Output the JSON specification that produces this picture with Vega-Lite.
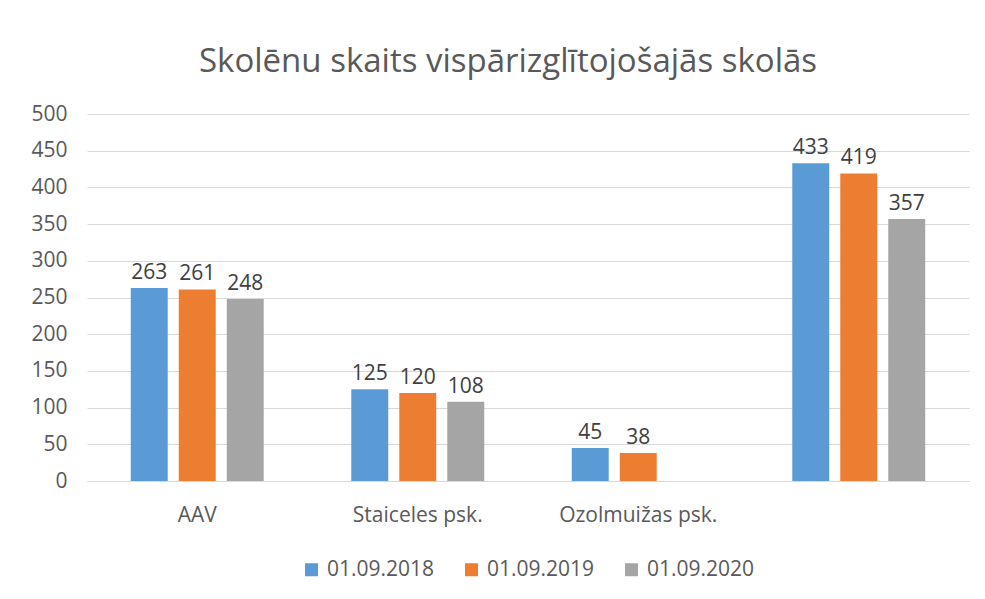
{
  "$schema": "https://vega.github.io/schema/vega-lite/v6.json",
  "width": 882,
  "height": 367,
  "padding": {"left": 30, "top": 46, "right": 15, "bottom": 10},
  "background": "white",
  "title": {
    "text": "Skolēnu skaits vispārizglītojošajās skolās",
    "font": "Open Sans",
    "fontSize": 33,
    "fontWeight": "normal",
    "color": "#595959",
    "anchor": "middle",
    "offset": 24,
    "dx": -20
  },
  "data": {
    "values": [
      {"skola": "AAV", "datums": "01.09.2018", "skaits": 263},
      {"skola": "AAV", "datums": "01.09.2019", "skaits": 261},
      {"skola": "AAV", "datums": "01.09.2020", "skaits": 248},
      {"skola": "Staiceles psk.", "datums": "01.09.2018", "skaits": 125},
      {"skola": "Staiceles psk.", "datums": "01.09.2019", "skaits": 120},
      {"skola": "Staiceles psk.", "datums": "01.09.2020", "skaits": 108},
      {"skola": "Ozolmuižas psk.", "datums": "01.09.2018", "skaits": 45},
      {"skola": "Ozolmuižas psk.", "datums": "01.09.2019", "skaits": 38},
      {"skola": " ", "datums": "01.09.2018", "skaits": 433},
      {"skola": " ", "datums": "01.09.2019", "skaits": 419},
      {"skola": " ", "datums": "01.09.2020", "skaits": 357}
    ]
  },
  "encoding": {
    "x": {
      "field": "skola",
      "type": "nominal",
      "sort": ["AAV", "Staiceles psk.", "Ozolmuižas psk.", " "],
      "scale": {"paddingInner": 0.347, "paddingOuter": 0.1735},
      "axis": {
        "title": null,
        "labelAngle": 0,
        "labelFont": "Open Sans",
        "labelFontSize": 21,
        "labelColor": "#595959",
        "labelPadding": 23,
        "ticks": false,
        "domainColor": "#D9D9D9",
        "grid": false
      }
    },
    "xOffset": {
      "field": "datums",
      "type": "nominal",
      "scale": {"paddingInner": 0.23, "paddingOuter": 0.115}
    },
    "y": {
      "field": "skaits",
      "type": "quantitative",
      "scale": {"domain": [0, 500]},
      "axis": {
        "title": null,
        "values": [0, 50, 100, 150, 200, 250, 300, 350, 400, 450, 500],
        "labelFont": "Open Sans",
        "labelFontSize": 21,
        "labelColor": "#595959",
        "labelPadding": 20,
        "ticks": false,
        "domain": false,
        "gridColor": "#D9D9D9"
      }
    }
  },
  "layer": [
    {
      "mark": {"type": "bar"},
      "encoding": {
        "color": {
          "field": "datums",
          "type": "nominal",
          "scale": {"range": ["#5B9BD5", "#ED7D31", "#A5A5A5"]},
          "legend": {
            "title": null,
            "orient": "bottom",
            "direction": "horizontal",
            "symbolType": "square",
            "symbolSize": 169,
            "symbolStrokeWidth": 0,
            "labelFont": "Open Sans",
            "labelFontSize": 21,
            "labelColor": "#595959",
            "columnPadding": 26,
            "labelOffset": 5,
            "offset": 34
          }
        }
      }
    },
    {
      "mark": {
        "type": "text",
        "baseline": "bottom",
        "dy": -5,
        "font": "Open Sans",
        "fontSize": 21,
        "color": "#404040"
      },
      "encoding": {"text": {"field": "skaits", "type": "quantitative"}}
    }
  ],
  "config": {
    "view": {"stroke": null},
    "legend": {"layout": {"bottom": {"anchor": "middle"}}}
  }
}
